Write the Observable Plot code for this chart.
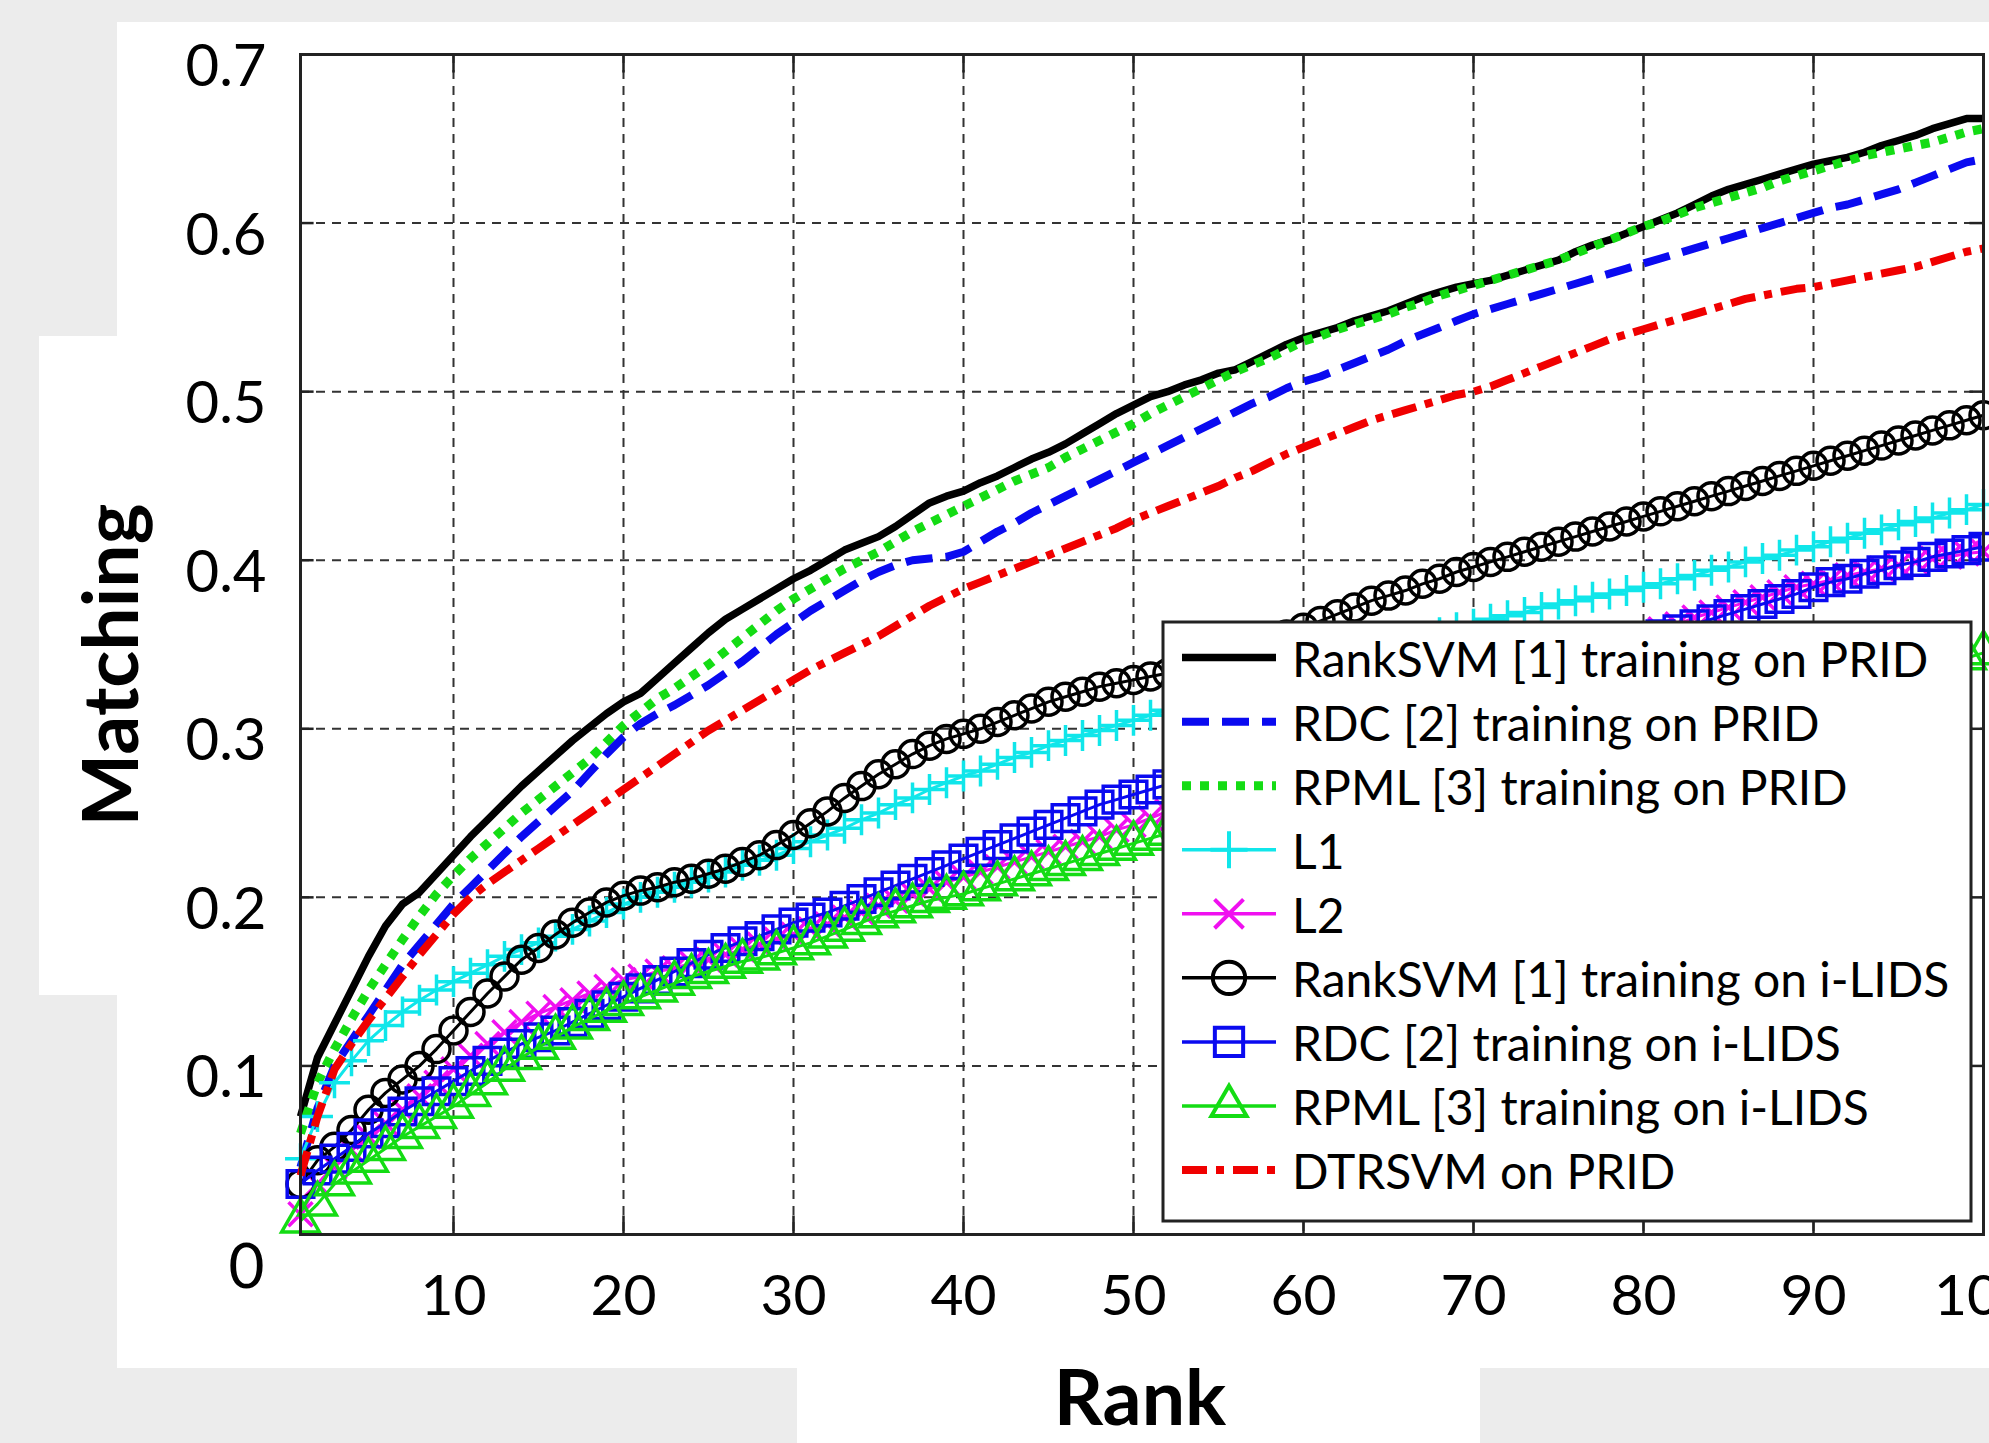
<!DOCTYPE html>
<html>
<head>
<meta charset="utf-8">
<script src="https://cdn.jsdelivr.net/npm/d3@7"></script>
<script src="https://cdn.jsdelivr.net/npm/@observablehq/plot@0.6"></script>
<style>
html,body{margin:0;padding:0;background:#ececec;width:1989px;height:1443px;overflow:hidden;}
#stage{position:relative;width:1989px;height:1443px;font-family:Lato,"Open Sans",sans-serif;color:#000;}
.blk{position:absolute;background:#fff;}
#chart{position:absolute;left:0;top:0;}
#overlay{position:absolute;left:0;top:0;pointer-events:none;}
</style>
</head>
<body>
<div id="stage">
  <div class="blk" style="left:117px;top:22px;width:1872px;height:1346px;"></div>
  <div class="blk" style="left:39px;top:336px;width:80px;height:659px;"></div>
  <div class="blk" style="left:797px;top:1366px;width:683px;height:77px;"></div>
  <div id="chart"></div>
  <svg id="overlay" width="1989" height="1443"></svg>
</div>
<script>
// ---------- data ----------
const ranks = d3.range(1, 101);
const xTicks = [10, 20, 30, 40, 50, 60, 70, 80, 90, 100];
const xGrid = [10, 20, 30, 40, 50, 60, 70, 80, 90];
const yTicks = [0.1, 0.2, 0.3, 0.4, 0.5, 0.6, 0.7];
const yGrid = [0.1, 0.2, 0.3, 0.4, 0.5, 0.6];

const seriesNames = [
  "RankSVM [1] training on PRID",
  "RDC [2] training on PRID",
  "RPML [3] training on PRID",
  "L1",
  "L2",
  "RankSVM [1] training on i-LIDS",
  "RDC [2] training on i-LIDS",
  "RPML [3] training on i-LIDS",
  "DTRSVM on PRID"
];

const rankSvmPrid = [
 0.070,0.105,0.125,0.145,0.165,0.183,0.196,0.203,0.214,0.225,
 0.236,0.246,0.256,0.266,0.275,0.284,0.293,0.301,0.309,0.316,
 0.321,0.330,0.339,0.348,0.357,0.365,0.371,0.377,0.383,0.389,
 0.394,0.400,0.406,0.410,0.414,0.420,0.427,0.434,0.438,0.441,
 0.446,0.450,0.455,0.460,0.464,0.469,0.475,0.481,0.487,0.492,
 0.497,0.500,0.504,0.507,0.511,0.513,0.518,0.523,0.528,0.532,
 0.535,0.538,0.542,0.545,0.548,0.552,0.556,0.559,0.562,0.564,
 0.566,0.569,0.572,0.575,0.578,0.583,0.587,0.590,0.594,0.598,
 0.602,0.606,0.611,0.616,0.620,0.623,0.626,0.629,0.632,0.635,
 0.637,0.639,0.642,0.646,0.649,0.652,0.656,0.659,0.662,0.662];

const rdcPrid = [
 0.040,0.075,0.100,0.115,0.130,0.145,0.160,0.172,0.184,0.196,
 0.206,0.216,0.226,0.236,0.245,0.254,0.263,0.274,0.285,0.295,
 0.303,0.309,0.314,0.320,0.326,0.333,0.340,0.348,0.356,0.363,
 0.370,0.376,0.382,0.388,0.393,0.397,0.400,0.401,0.402,0.405,
 0.411,0.417,0.422,0.428,0.433,0.438,0.443,0.448,0.453,0.458,
 0.463,0.468,0.473,0.478,0.483,0.488,0.493,0.497,0.502,0.506,
 0.509,0.513,0.517,0.521,0.525,0.530,0.534,0.538,0.542,0.546,
 0.549,0.552,0.555,0.558,0.561,0.564,0.567,0.570,0.573,0.576,
 0.579,0.582,0.585,0.588,0.591,0.594,0.597,0.600,0.603,0.606,
 0.609,0.611,0.614,0.617,0.620,0.624,0.628,0.632,0.636,0.638];

const rpmlPrid = [
 0.060,0.090,0.110,0.128,0.145,0.160,0.175,0.189,0.202,0.213,
 0.223,0.232,0.241,0.250,0.258,0.266,0.274,0.282,0.292,0.302,
 0.310,0.318,0.324,0.331,0.338,0.346,0.354,0.362,0.370,0.377,
 0.383,0.389,0.395,0.400,0.405,0.411,0.417,0.422,0.427,0.432,
 0.437,0.442,0.447,0.451,0.455,0.461,0.466,0.471,0.476,0.481,
 0.487,0.492,0.497,0.502,0.507,0.512,0.516,0.520,0.525,0.530,
 0.533,0.537,0.540,0.543,0.546,0.550,0.553,0.557,0.560,0.563,
 0.566,0.569,0.572,0.575,0.578,0.582,0.586,0.590,0.594,0.598,
 0.601,0.605,0.609,0.612,0.615,0.618,0.621,0.625,0.628,0.631,
 0.634,0.637,0.640,0.642,0.644,0.646,0.648,0.651,0.654,0.656];

const l1 = [
 0.045,0.070,0.090,0.103,0.115,0.124,0.132,0.139,0.145,0.150,
 0.155,0.160,0.165,0.169,0.173,0.177,0.181,0.186,0.191,0.196,
 0.200,0.203,0.206,0.209,0.212,0.215,0.219,0.222,0.225,0.229,
 0.233,0.237,0.241,0.246,0.250,0.255,0.259,0.264,0.268,0.272,
 0.275,0.279,0.283,0.286,0.290,0.293,0.296,0.299,0.302,0.305,
 0.308,0.311,0.314,0.317,0.320,0.323,0.326,0.329,0.332,0.335,
 0.338,0.341,0.343,0.346,0.349,0.351,0.354,0.357,0.360,0.362,
 0.365,0.367,0.369,0.372,0.374,0.376,0.378,0.380,0.382,0.384,
 0.386,0.389,0.391,0.394,0.396,0.399,0.401,0.403,0.406,0.408,
 0.411,0.413,0.416,0.418,0.421,0.423,0.425,0.428,0.430,0.433];

const l2 = [
 0.012,0.030,0.040,0.050,0.058,0.066,0.074,0.082,0.090,0.098,
 0.106,0.113,0.120,0.126,0.131,0.135,0.139,0.143,0.147,0.151,
 0.153,0.156,0.158,0.161,0.163,0.166,0.169,0.172,0.175,0.178,
 0.181,0.184,0.188,0.191,0.195,0.198,0.202,0.205,0.209,0.212,
 0.215,0.218,0.221,0.224,0.227,0.230,0.233,0.236,0.240,0.243,
 0.247,0.251,0.254,0.258,0.262,0.265,0.269,0.273,0.276,0.280,
 0.284,0.287,0.291,0.294,0.298,0.302,0.305,0.309,0.312,0.316,
 0.320,0.324,0.328,0.331,0.335,0.339,0.343,0.347,0.351,0.355,
 0.359,0.362,0.366,0.369,0.372,0.375,0.378,0.381,0.384,0.386,
 0.388,0.391,0.393,0.395,0.397,0.399,0.401,0.402,0.404,0.405];

const rankSvmIlids = [
 0.030,0.044,0.052,0.062,0.074,0.084,0.092,0.100,0.110,0.121,
 0.132,0.143,0.153,0.163,0.170,0.178,0.185,0.191,0.197,0.201,
 0.204,0.206,0.209,0.211,0.214,0.217,0.221,0.225,0.231,0.237,
 0.244,0.251,0.259,0.266,0.273,0.279,0.285,0.290,0.294,0.297,
 0.300,0.304,0.308,0.312,0.316,0.319,0.322,0.325,0.327,0.329,
 0.331,0.333,0.335,0.338,0.341,0.344,0.348,0.352,0.356,0.360,
 0.364,0.368,0.372,0.376,0.379,0.382,0.386,0.389,0.393,0.396,
 0.399,0.402,0.405,0.408,0.411,0.414,0.417,0.420,0.423,0.426,
 0.429,0.432,0.435,0.438,0.441,0.444,0.447,0.450,0.453,0.456,
 0.459,0.462,0.465,0.468,0.471,0.474,0.477,0.480,0.483,0.486];

const rdcIlids = [
 0.030,0.038,0.045,0.052,0.060,0.066,0.073,0.079,0.085,0.091,
 0.097,0.103,0.108,0.113,0.117,0.121,0.126,0.131,0.136,0.141,
 0.146,0.151,0.156,0.161,0.166,0.170,0.174,0.177,0.181,0.185,
 0.188,0.191,0.195,0.199,0.203,0.207,0.211,0.215,0.219,0.223,
 0.227,0.231,0.235,0.239,0.243,0.247,0.251,0.255,0.258,0.261,
 0.264,0.267,0.270,0.273,0.276,0.279,0.282,0.285,0.288,0.291,
 0.294,0.297,0.300,0.303,0.306,0.309,0.312,0.315,0.318,0.321,
 0.324,0.327,0.330,0.333,0.336,0.339,0.342,0.345,0.348,0.352,
 0.356,0.359,0.362,0.365,0.368,0.371,0.374,0.377,0.380,0.384,
 0.387,0.389,0.392,0.394,0.397,0.399,0.402,0.404,0.406,0.408];

const rpmlIlids = [
 0.008,0.018,0.030,0.037,0.044,0.051,0.058,0.064,0.070,0.076,
 0.083,0.090,0.098,0.105,0.111,0.117,0.123,0.128,0.133,0.137,
 0.141,0.145,0.149,0.153,0.156,0.159,0.162,0.164,0.167,0.170,
 0.173,0.177,0.181,0.185,0.189,0.192,0.195,0.198,0.200,0.202,
 0.205,0.208,0.211,0.214,0.217,0.220,0.223,0.226,0.229,0.232,
 0.235,0.238,0.240,0.243,0.245,0.247,0.250,0.252,0.254,0.256,
 0.259,0.261,0.263,0.265,0.268,0.270,0.272,0.274,0.277,0.279,
 0.281,0.283,0.286,0.288,0.290,0.292,0.295,0.297,0.299,0.301,
 0.304,0.306,0.308,0.310,0.313,0.315,0.317,0.319,0.322,0.324,
 0.326,0.328,0.330,0.332,0.334,0.336,0.338,0.340,0.342,0.345];

const dtrsvmPrid = [
 0.035,0.070,0.098,0.113,0.127,0.140,0.153,0.166,0.178,0.190,
 0.200,0.208,0.215,0.222,0.229,0.236,0.243,0.250,0.257,0.264,
 0.271,0.278,0.285,0.292,0.299,0.305,0.311,0.317,0.323,0.329,
 0.335,0.340,0.345,0.350,0.355,0.361,0.367,0.373,0.378,0.383,
 0.387,0.391,0.395,0.399,0.403,0.407,0.411,0.415,0.419,0.424,
 0.428,0.432,0.436,0.440,0.444,0.449,0.453,0.458,0.463,0.467,
 0.471,0.475,0.479,0.483,0.486,0.489,0.492,0.495,0.498,0.500,
 0.503,0.507,0.511,0.515,0.519,0.523,0.527,0.531,0.534,0.537,
 0.540,0.543,0.546,0.549,0.552,0.555,0.557,0.559,0.561,0.562,
 0.564,0.566,0.568,0.570,0.572,0.574,0.577,0.580,0.583,0.585];

// ---------- styles ----------
const styles = [
  {values: rankSvmPrid,  color: "#000000", width: 7.5, dash: null,          symbol: null},
  {values: rdcPrid,      color: "#0a0af0", width: 8,   dash: "27,13",       symbol: null},
  {values: rpmlPrid,     color: "#14dc14", width: 9,   dash: "9,9",         symbol: null},
  {values: l1,           color: "#10e6ea", width: 3,   dash: null,          symbol: "plus",     r: 10},
  {values: l2,           color: "#f010f0", width: 3,   dash: null,          symbol: "times",    r: 11},
  {values: rankSvmIlids, color: "#000000", width: 3,   dash: null,          symbol: "circle",   r: 13.5},
  {values: rdcIlids,     color: "#0a0af0", width: 3,   dash: null,          symbol: "square",   r: 15},
  {values: rpmlIlids,    color: "#14dc14", width: 3,   dash: null,          symbol: "triangle", r: 14},
  {values: dtrsvmPrid,   color: "#f00000", width: 8,   dash: "25,9,8,9",    symbol: null}
];
const drawOrder = [0, 2, 1, 3, 4, 5, 6, 7, 8];

const marks = [
  Plot.ruleX(xGrid, {stroke: "#333", strokeWidth: 2, strokeDasharray: "9,7"}),
  Plot.ruleY(yGrid, {stroke: "#333", strokeWidth: 2, strokeDasharray: "9,7"}),
  Plot.ruleX(xGrid, {y1: 0, y2: 0.011, stroke: "#222", strokeWidth: 2.5}),
  Plot.ruleX(xGrid, {y1: 0.689, y2: 0.7, stroke: "#222", strokeWidth: 2.5}),
  Plot.ruleY(yGrid, {x1: 1, x2: 1.8, stroke: "#222", strokeWidth: 2.5}),
  Plot.ruleY(yGrid, {x1: 99.2, x2: 100, stroke: "#222", strokeWidth: 2.5}),
  Plot.axisY(yTicks, {tickSize: 0, tickPadding: 34, fontSize: 58, dy: 13, tickFormat: d => d.toFixed(1), label: null}),
  Plot.axisY([0], {tickSize: 0, tickPadding: 36, fontSize: 62, dy: 34, tickFormat: () => "0", label: null}),
  Plot.axisX(xTicks, {tickSize: 0, tickPadding: 40, fontSize: 57, label: null})
];

for (const i of drawOrder) {
  const s = styles[i];
  const data = s.values.map((v, j) => ({rank: ranks[j], value: v}));
  marks.push(Plot.line(data, {
    x: "rank", y: "value", stroke: s.color, strokeWidth: s.width,
    strokeDasharray: s.dash || undefined, strokeLinecap: "butt", strokeLinejoin: "round"
  }));
  if (s.symbol) {
    marks.push(Plot.dot(data, {
      x: "rank", y: "value", symbol: s.symbol, r: s.r,
      stroke: s.color, strokeWidth: 3.5, fill: "none"
    }));
  }
}
marks.push(Plot.frame({stroke: "#222", strokeWidth: 3}));

const chart = Plot.plot({
  width: 1989, height: 1443,
  marginLeft: 300, marginRight: 6, marginTop: 54, marginBottom: 209,
  style: {background: "transparent", fontFamily: "Lato, 'Open Sans', sans-serif", color: "#000", overflow: "visible"},
  x: {domain: [1, 100]},
  y: {domain: [0, 0.7]},
  marks
});
document.getElementById("chart").appendChild(chart);

// ---------- titles and legend ----------
const ov = d3.select("#overlay");
ov.append("text")
  .attr("transform", "translate(138,665) rotate(-90)")
  .attr("text-anchor", "middle")
  .attr("font-family", "Lato, sans-serif").attr("font-weight", "bold").attr("font-size", 77)
  .text("Matching");
ov.append("text")
  .attr("x", 1140).attr("y", 1425)
  .attr("text-anchor", "middle")
  .attr("font-family", "Lato, sans-serif").attr("font-weight", "bold").attr("font-size", 77)
  .text("Rank");

const lg = ov.append("g");
lg.append("rect").attr("x", 1163).attr("y", 622).attr("width", 808).attr("height", 599)
  .attr("fill", "#fff").attr("stroke", "#222").attr("stroke-width", 3);
const symMap = {plus: d3.symbolPlus, times: d3.symbolTimes, circle: d3.symbolCircle, square: d3.symbolSquare2, triangle: d3.symbolTriangle2};
seriesNames.forEach((name, i) => {
  const s = styles[i];
  const cy = 659.6 + i * 64.05;
  lg.append("line").attr("x1", 1182).attr("x2", 1276).attr("y1", cy - 2).attr("y2", cy - 2)
    .attr("stroke", s.color).attr("stroke-width", s.symbol ? 3.5 : s.width)
    .attr("stroke-dasharray", s.dash).attr("stroke-linecap", "butt");
  if (s.symbol) {
    const rr = s.r * 1.2;
    lg.append("path").attr("transform", `translate(1229,${cy - 2})`)
      .attr("d", d3.symbol(symMap[s.symbol], Math.PI * rr * rr)())
      .attr("fill", "none").attr("stroke", s.color).attr("stroke-width", 4);
  }
  lg.append("text").attr("x", 1292).attr("y", cy + 17)
    .attr("font-family", "Lato, sans-serif").attr("font-size", 48).attr("fill", "#000")
    .text(name);
});
</script>
</body>
</html>
